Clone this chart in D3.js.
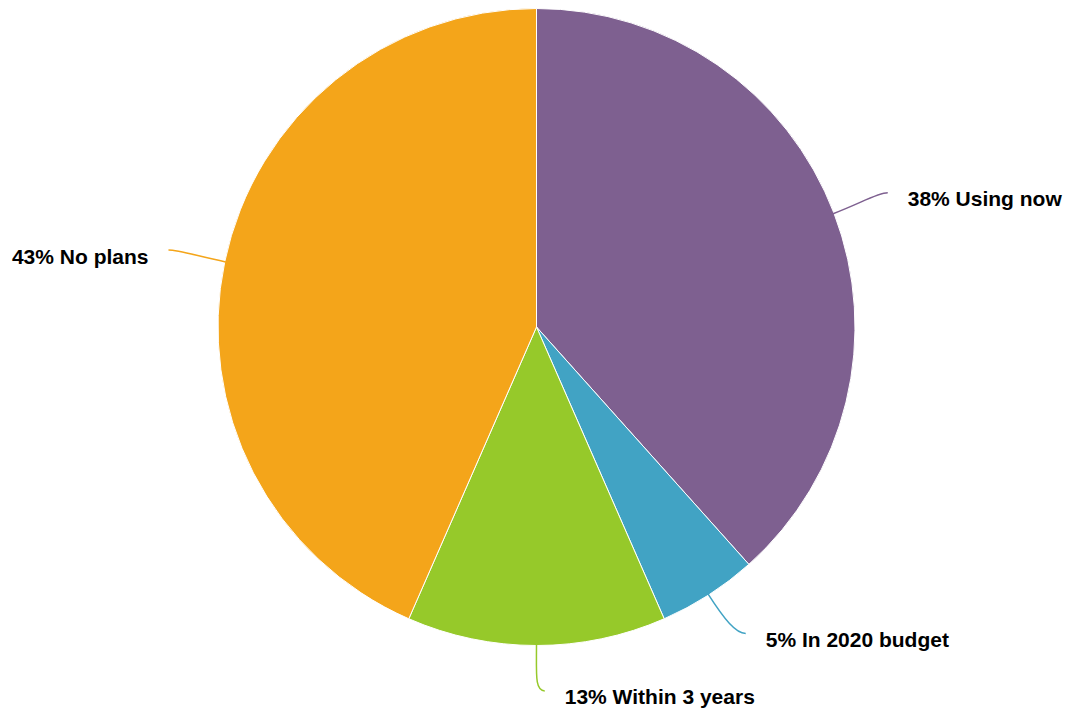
<!DOCTYPE html>
<html><head><meta charset="utf-8">
<script src="https://cdn.jsdelivr.net/npm/d3@7"></script>
<style>body{margin:0;background:#fff}svg{display:block}</style>
</head><body><svg id="c" width="1070" height="714"></svg>
<script>
const categories = ["Using now", "In 2020 budget", "Within 3 years", "No plans"];
const values = [38, 5, 13, 43];
const colors = ["#7e6090", "#41a3c4", "#96c92a", "#f4a51a"];
// label layout nudges (degrees, px) to mimic collision avoidance
const labelShift = [0, -1.6, -1.3, 0];
const labelDist = [376, 371, 364, 376];

const W = 1070, H = 714, cx = 536.5, cy = 327, R = 318.5;
const svg = d3.select("#c");
const g = svg.append("g").attr("transform", `translate(${cx},${cy})`);

const pie = d3.pie().sort(null).value(d => d.v);
const data = pie(categories.map((c, i) => ({ c, v: values[i], col: colors[i], i })));
const arc = d3.arc().innerRadius(0).outerRadius(R);

g.selectAll("path.slice").data(data).join("path")
  .attr("class", "slice")
  .attr("d", arc)
  .attr("fill", d => d.data.col)
  .attr("stroke", "#fff")
  .attr("stroke-width", 1)
  .attr("stroke-linejoin", "round");

data.forEach(d => {
  const i = d.data.i;
  const mid = (d.startAngle + d.endAngle) / 2;
  const sx = (R - 1) * Math.sin(mid), sy = -(R - 1) * Math.cos(mid);
  const a2 = mid + labelShift[i] * Math.PI / 180;
  const ex = labelDist[i] * Math.sin(a2), ey = -labelDist[i] * Math.cos(a2);
  const right = mid <= Math.PI + 1e-9;
  const dir = right ? 1 : -1;
  const k1 = 30, k2 = 10;
  const c1x = sx + Math.sin(mid) * k1, c1y = sy - Math.cos(mid) * k1;
  const c2x = ex - dir * k2, c2y = ey;
  g.append("path")
    .attr("d", `M${sx},${sy}C${c1x},${c1y} ${c2x},${c2y} ${ex},${ey}`)
    .attr("fill", "none")
    .attr("stroke", d.data.col)
    .attr("stroke-width", 1.5);
  g.append("text")
    .attr("x", ex + dir * 20)
    .attr("y", ey + 13.5)
    .attr("text-anchor", right ? "start" : "end")
    .attr("font-family", "'Liberation Sans', Arial, Helvetica, sans-serif")
    .attr("font-weight", "bold")
    .attr("font-size", 21)
    .attr("fill", "#000")
    .text(`${d.data.v}% ${d.data.c}`);
});
</script></body></html>
